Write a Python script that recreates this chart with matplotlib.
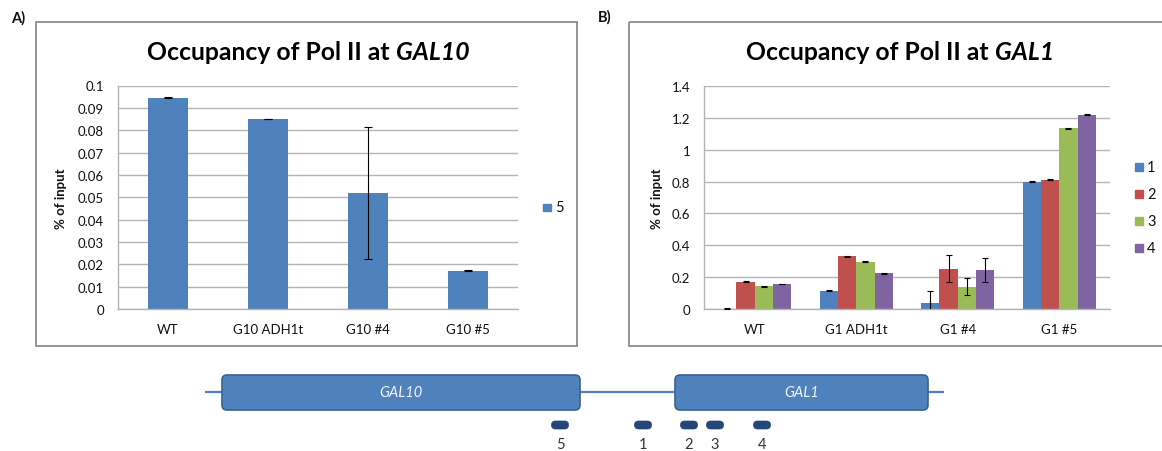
import matplotlib
matplotlib.use("Agg")
import matplotlib.pyplot as plt
from matplotlib.patches import Rectangle, FancyBboxPatch
import numpy as np

W, H = 1162, 452
plt.rcParams['font.family'] = ['Lato', 'DejaVu Sans']

# ---- Panel A: Pol II occupancy at GAL10 (probe 5) ----
gal10_samples = ["WT", "G10 ADH1t", "G10 #4", "G10 #5"]
gal10_probe5 = [0.0945, 0.0851, 0.0519, 0.0171]
gal10_probe5_err = [0.0002, 0.0001, 0.0296, 0.0002]
gal10_ticks = [0, 0.01, 0.02, 0.03, 0.04, 0.05, 0.06, 0.07, 0.08, 0.09, 0.1]
gal10_ticklabels = ["0", "0.01", "0.02", "0.03", "0.04", "0.05", "0.06",
                    "0.07", "0.08", "0.09", "0.1"]

# ---- Panel B: Pol II occupancy at GAL1 (probes 1-4) ----
gal1_samples = ["WT", "G1 ADH1t", "G1 #4", "G1 #5"]
gal1_probe1 = [0.002, 0.115, 0.038, 0.798]
gal1_probe2 = [0.171, 0.331, 0.254, 0.812]
gal1_probe3 = [0.142, 0.297, 0.140, 1.134]
gal1_probe4 = [0.157, 0.224, 0.245, 1.221]
gal1_probe1_err = [0.002, 0.002, 0.075, 0.003]
gal1_probe2_err = [0.003, 0.002, 0.087, 0.003]
gal1_probe3_err = [0.002, 0.002, 0.052, 0.003]
gal1_probe4_err = [0.002, 0.002, 0.078, 0.003]
gal1_probe_names = ["1", "2", "3", "4"]
gal1_ticks = [0, 0.2, 0.4, 0.6, 0.8, 1.0, 1.2, 1.4]
gal1_ticklabels = ["0", "0.2", "0.4", "0.6", "0.8", "1", "1.2", "1.4"]

# ---- Locus map: genes and probe positions along the locus (overlay px) ----
locus_genes = ["GAL10", "GAL1"]
probe_labels = ["5", "1", "2", "3", "4"]
probe_sites = [560, 643, 689, 715, 762]

BLUE, RED, GREEN, PURPLE = "#4F81BD", "#C0504D", "#9BBB59", "#8064A2"
GRID = "#B4B4B4"
TXT = "#111111"

fig = plt.figure(figsize=(W / 100, H / 100), dpi=100)

# full-figure overlay in pixel coordinates for frames, titles and the locus map
ov = fig.add_axes([0, 0, 1, 1])
ov.set_xlim(0, W)
ov.set_ylim(H, 0)
ov.axis("off")


def rect(x0, y0, x1, y1):
    return [x0 / W, 1 - y1 / H, (x1 - x0) / W, (y1 - y0) / H]


def style_axes(ax, ticks, ticklabels, samples, ymax):
    ax.set_ylim(0, ymax)
    ax.set_xlim(-0.5, len(samples) - 0.5)
    ax.set_yticks(ticks)
    ax.set_yticklabels(ticklabels, fontsize=9.5, color=TXT)
    ax.set_xticks(np.arange(len(samples)))
    ax.set_xticklabels(samples, fontsize=9.5, color=TXT)
    ax.tick_params(axis="both", length=0)
    ax.tick_params(axis="y", pad=10)
    ax.tick_params(axis="x", pad=10)
    ax.grid(axis="y", color=GRID, lw=1)
    ax.set_axisbelow(True)
    for s in ("top", "right"):
        ax.spines[s].set_visible(False)
    for s in ("left", "bottom"):
        ax.spines[s].set_color(GRID)
        ax.spines[s].set_linewidth(1)
    ax.set_ylabel("% of input", fontsize=9.5, fontweight="bold", color=TXT)


def two_part_title(xc, y, plain, italic, size):
    r = fig.canvas.get_renderer()
    t1 = ov.text(0, y, plain, fontsize=size, fontweight="bold", ha="left",
                 va="baseline", color="black")
    t2 = ov.text(0, y, italic, fontsize=size, fontweight="bold",
                 style="italic", ha="left", va="baseline", color="black")
    w1 = t1.get_window_extent(r).width
    w2 = t2.get_window_extent(r).width
    gap = size * 0.35
    x0 = xc - (w1 + gap + w2) / 2
    t1.set_x(x0)
    t2.set_x(x0 + w1 + gap)


# chart frames
ov.add_patch(Rectangle((36, 23), 541, 324, fill=False, ec="#8C8C8C", lw=1.3))
ov.add_patch(Rectangle((629, 23), 560, 324, fill=False, ec="#8C8C8C", lw=1.3))
ov.text(11, 18, "A)", fontsize=10.5, fontweight="bold", va="center", color=TXT)
ov.text(598, 17, "B)", fontsize=10.5, fontweight="bold", va="center", color=TXT)

two_part_title(308, 60, "Occupancy of Pol II at", "GAL10", 17.8)
two_part_title(900, 60, "Occupancy of Pol II at", "GAL1", 17.8)

# ---- Panel A ----
axA = fig.add_axes(rect(118, 86.5, 518, 310))
xA = np.arange(len(gal10_samples))
axA.bar(xA, gal10_probe5, width=0.4, color=BLUE, zorder=2)
axA.errorbar(xA, gal10_probe5, yerr=gal10_probe5_err, fmt="none",
             ecolor="black", elinewidth=0.8, capsize=3, capthick=0.8, zorder=3)
style_axes(axA, gal10_ticks, gal10_ticklabels, gal10_samples, 0.1)
axA.yaxis.set_label_coords(-0.128, 0.5)

ov.add_patch(Rectangle((543, 204.5), 7.5, 7.5, color=BLUE))
ov.text(555, 208, "5", fontsize=10.5, va="center", color=TXT)

# ---- Panel B ----
axB = fig.add_axes(rect(704, 87, 1110, 310))
xB = np.arange(len(gal1_samples))
bw = 0.18
series = [(gal1_probe1, gal1_probe1_err, BLUE),
          (gal1_probe2, gal1_probe2_err, RED),
          (gal1_probe3, gal1_probe3_err, GREEN),
          (gal1_probe4, gal1_probe4_err, PURPLE)]
for i, (vals, errs, col) in enumerate(series):
    pos = xB + (i - 1.5) * bw
    axB.bar(pos, vals, width=bw, color=col, zorder=2)
    axB.errorbar(pos, vals, yerr=errs, fmt="none", ecolor="black",
                 elinewidth=0.8, capsize=2.5, capthick=0.8, zorder=3)
style_axes(axB, gal1_ticks, gal1_ticklabels, gal1_samples, 1.4)
axB.yaxis.set_label_coords(-0.1, 0.5)

for i, (name, (_, _, col)) in enumerate(zip(gal1_probe_names, series)):
    y = 168 + i * 27
    ov.add_patch(Rectangle((1135, y - 3.75), 7.5, 7.5, color=col))
    ov.text(1147, y, name, fontsize=10.5, va="center", color=TXT)

# ---- Locus map ----
ov.plot([205, 944], [393, 393], color=BLUE, lw=1.6, solid_capstyle="butt",
        zorder=1)
gene_boxes = [(222, 580), (675, 928)]
for name, (gx0, gx1) in zip(locus_genes, gene_boxes):
    ov.add_patch(FancyBboxPatch((gx0, 376), gx1 - gx0, 35,
                                boxstyle="round,pad=0,rounding_size=5",
                                fc=BLUE, ec="#3A6291", lw=1.2, zorder=2))
    ov.text((gx0 + gx1) / 2, 393.5, name,
            fontsize=10.5, style="italic", color="#F4F4F4", ha="center",
            va="center", zorder=3)

for lab, px in zip(probe_labels, probe_sites):
    ov.add_patch(FancyBboxPatch((px - 8.5, 422), 17, 8,
                                boxstyle="round,pad=0,rounding_size=4",
                                fc="#24467A", ec="#24467A", lw=0.5, zorder=2))
    ov.text(px, 445, lab, fontsize=10.5, ha="center", va="center", color="#333333")

fig.savefig("out.png", dpi=100)
